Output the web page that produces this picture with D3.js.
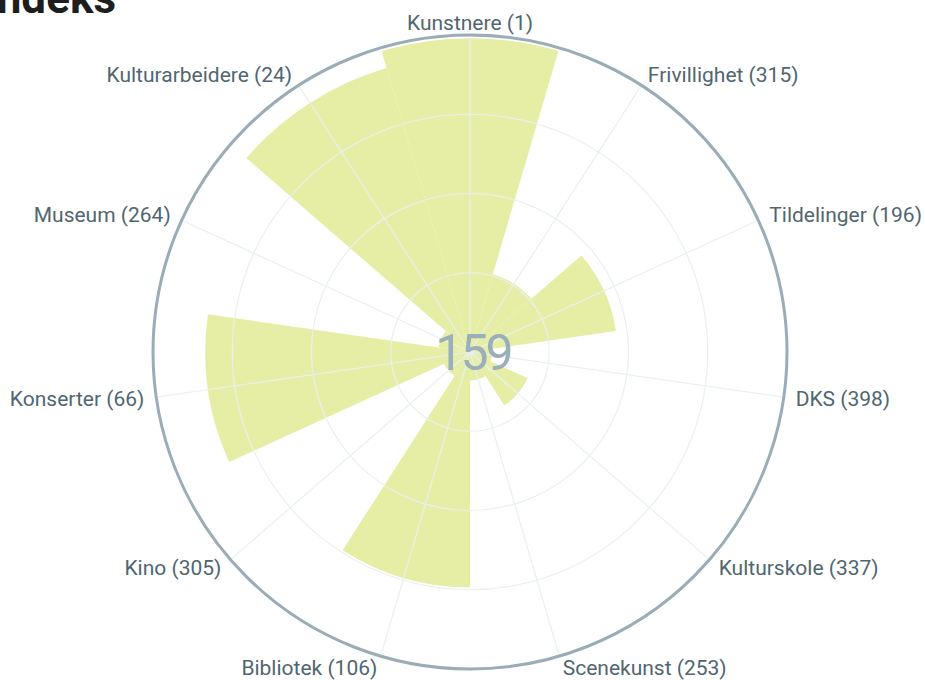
<!DOCTYPE html>
<html>
<head>
<meta charset="utf-8">
<script src="https://cdn.jsdelivr.net/npm/d3@7"></script>
<style>
    body { margin: 0; background: #ffffff; }
    svg { display: block; }
</style>
</head>
<body>
<svg></svg>
<script>
// categories clockwise from the top, rank in brackets, bar value (0-100)
var categories = ["Kunstnere","Frivillighet","Tildelinger","DKS","Kulturskole","Scenekunst","Bibliotek","Kino","Konserter","Museum","Kulturarbeidere"];
var ranks = [1, 315, 196, 398, 337, 253, 106, 305, 66, 264, 24];
var values = [99, 25.6, 46.5, 7, 20, 9, 74.3, 9, 83.5, 10, 93.4];
var gridTicks = [25, 50, 75];
var centerRank = 159;
var title = "Kulturindeks";

drawVisual = function(){

    var svgWidth = 925;
    var svgHeight = 680;
    var cx = 470;
    var cy = 352;
    var radius = 317;

    var svg = d3.select('svg')
        .attr("width", svgWidth)
        .attr("height", svgHeight);

    var angle = d3.scaleBand()
        .domain(categories)
        .range([0, 2 * Math.PI]);
    var step = angle.bandwidth();

    var r = d3.scaleLinear()
        .domain([0, 100])
        .range([0, radius]);

    var chart = svg.append("g")
        .attr("transform", "translate(" + cx + "," + cy + ")");

    // bars, centred on each spoke
    var arc = d3.arc()
        .innerRadius(0)
        .outerRadius(function(d) { return r(d); })
        .startAngle(function(d, i) { return angle(categories[i]) - step / 2; })
        .endAngle(function(d, i) { return angle(categories[i]) + step / 2; });

    chart.append("g")
        .selectAll(null)
        .data(values)
        .enter()
        .append("path")
        .attr("d", arc)
        .attr("fill", "#e6eda5");

    // grid circles and spokes on top of the bars
    chart.append("g")
        .selectAll(null)
        .data(gridTicks)
        .enter()
        .append("circle")
        .attr("r", function(d) { return r(d); })
        .attr("fill", "none")
        .attr("stroke", "#e9f0f1")
        .attr("stroke-width", 1.2);

    chart.append("g")
        .selectAll(null)
        .data(categories)
        .enter()
        .append("line")
        .attr("x1", 0)
        .attr("y1", 0)
        .attr("x2", function(d) { return radius * Math.sin(angle(d)); })
        .attr("y2", function(d) { return -radius * Math.cos(angle(d)); })
        .attr("stroke", "#e9f0f1")
        .attr("stroke-width", 1.2);

    chart.append("circle")
        .attr("r", r(100))
        .attr("fill", "none")
        .attr("stroke", "#9aadb7")
        .attr("stroke-width", 3);

    // category labels
    var labelR = radius + 12;
    chart.append("g")
        .selectAll(null)
        .data(categories)
        .enter()
        .append("text")
        .attr("x", function(d) { return labelR * Math.sin(angle(d)); })
        .attr("y", function(d) { return -labelR * Math.cos(angle(d)); })
        .attr("dy", "0.34em")
        .attr("text-anchor", function(d) {
            var s = Math.sin(angle(d));
            if (s > 0.1) return "start";
            if (s < -0.1) return "end";
            return "middle";
        })
        .attr("fill", "#506670")
        .style("font-family", "Roboto, sans-serif")
        .style("font-size", "21px")
        .text(function(d, i) { return d + " (" + ranks[i] + ")"; });

    // overall rank in the middle
    chart.append("text")
        .attr("x", 3)
        .attr("y", 0)
        .attr("dy", "0.36em")
        .attr("text-anchor", "middle")
        .attr("fill", "#9aafb9")
        .style("font-family", "Roboto, sans-serif")
        .style("font-weight", "400")
        .style("font-size", "50px")
        .style("letter-spacing", "-3px")
        .text(centerRank);

    // title, mostly outside the picture
    svg.append("text")
        .attr("x", 116)
        .attr("y", 13)
        .attr("text-anchor", "end")
        .attr("fill", "#1e1e1e")
        .style("font-family", "Roboto, sans-serif")
        .style("font-weight", "700")
        .style("font-size", "44px")
        .text(title);
}

drawVisual()
</script>
</body>
</html>
